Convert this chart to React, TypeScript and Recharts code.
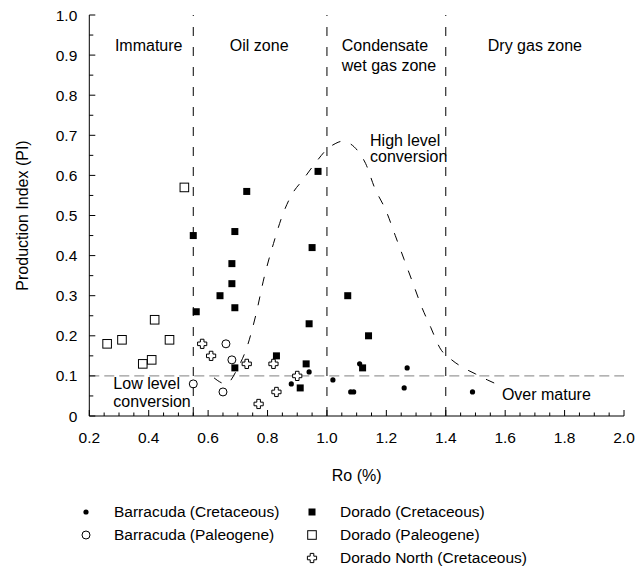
import React from "react";
import {
  ComposedChart,
  Scatter,
  Line,
  XAxis,
  YAxis,
  ReferenceLine,
  ReferenceDot,
  Legend,
} from "recharts";

const FONT = '"Liberation Sans", Arial, Helvetica, sans-serif';
const FONT_SIZE = 15.5;
const NOTE_SIZE = 16;

// axis labels (every 0.2 on Ro, every 0.1 on PI); ticks every 0.05
const X_LABELS = [0.2, 0.4, 0.6, 0.8, 1.0, 1.2, 1.4, 1.6, 1.8, 2.0];
const Y_LABELS = [0, 0.1, 0.2, 0.3, 0.4, 0.5, 0.6, 0.7, 0.8, 0.9, 1.0];
const TICK_STEP = 0.05;

// maturity zone boundaries (Ro %) and the low conversion level (PI)
const ZONE_BOUNDARIES = [0.55, 1.0, 1.4];
const LOW_LEVEL_PI = 0.1;

type Pt = { x: number; y: number };

const BARRACUDA_CRETACEOUS: Pt[] = [
  { x: 0.88, y: 0.08 },
  { x: 0.94, y: 0.11 },
  { x: 1.02, y: 0.09 },
  { x: 1.08, y: 0.06 },
  { x: 1.09, y: 0.06 },
  { x: 1.11, y: 0.13 },
  { x: 1.26, y: 0.07 },
  { x: 1.27, y: 0.12 },
  { x: 1.49, y: 0.06 },
];

const BARRACUDA_PALEOGENE: Pt[] = [
  { x: 0.55, y: 0.08 },
  { x: 0.65, y: 0.06 },
  { x: 0.66, y: 0.18 },
  { x: 0.68, y: 0.14 },
];

const DORADO_CRETACEOUS: Pt[] = [
  { x: 0.55, y: 0.45 },
  { x: 0.56, y: 0.26 },
  { x: 0.64, y: 0.3 },
  { x: 0.68, y: 0.38 },
  { x: 0.68, y: 0.33 },
  { x: 0.69, y: 0.46 },
  { x: 0.69, y: 0.27 },
  { x: 0.69, y: 0.12 },
  { x: 0.73, y: 0.56 },
  { x: 0.83, y: 0.15 },
  { x: 0.91, y: 0.07 },
  { x: 0.93, y: 0.13 },
  { x: 0.94, y: 0.23 },
  { x: 0.95, y: 0.42 },
  { x: 0.97, y: 0.61 },
  { x: 1.07, y: 0.3 },
  { x: 1.12, y: 0.12 },
  { x: 1.14, y: 0.2 },
];

const DORADO_PALEOGENE: Pt[] = [
  { x: 0.26, y: 0.18 },
  { x: 0.31, y: 0.19 },
  { x: 0.38, y: 0.13 },
  { x: 0.41, y: 0.14 },
  { x: 0.42, y: 0.24 },
  { x: 0.47, y: 0.19 },
  { x: 0.52, y: 0.57 },
];

const DORADO_NORTH_CRETACEOUS: Pt[] = [
  { x: 0.58, y: 0.18 },
  { x: 0.61, y: 0.15 },
  { x: 0.73, y: 0.13 },
  { x: 0.77, y: 0.03 },
  { x: 0.82, y: 0.13 },
  { x: 0.83, y: 0.06 },
  { x: 0.9, y: 0.1 },
];

// dashed "high level conversion" envelope
const HIGH_LEVEL_CURVE: Pt[] = [
  { x: 0.62, y: 0.095 },
  { x: 0.66, y: 0.08 },
  { x: 0.7, y: 0.12 },
  { x: 0.73, y: 0.17 },
  { x: 0.76, y: 0.25 },
  { x: 0.79, y: 0.35 },
  { x: 0.82, y: 0.43 },
  { x: 0.85, y: 0.5 },
  { x: 0.88, y: 0.55 },
  { x: 0.92, y: 0.59 },
  { x: 0.96, y: 0.63 },
  { x: 1.0, y: 0.665 },
  { x: 1.03, y: 0.68 },
  { x: 1.05, y: 0.685 },
  { x: 1.08, y: 0.678 },
  { x: 1.11, y: 0.655 },
  { x: 1.13, y: 0.63 },
  { x: 1.16, y: 0.57 },
  { x: 1.2, y: 0.51 },
  { x: 1.23, y: 0.45 },
  { x: 1.26, y: 0.39 },
  { x: 1.29, y: 0.33 },
  { x: 1.32, y: 0.27 },
  { x: 1.35, y: 0.22 },
  { x: 1.38, y: 0.17 },
  { x: 1.42, y: 0.14 },
  { x: 1.46, y: 0.12 },
  { x: 1.5, y: 0.105 },
  { x: 1.54, y: 0.09 },
  { x: 1.57, y: 0.08 },
];

// text placed in the plot, in data coordinates
const ANNOTATIONS: { x: number; y: number; text: string; anchor: "start" | "middle" }[] = [
  { x: 0.4, y: 0.925, text: "Immature", anchor: "middle" },
  { x: 0.772, y: 0.925, text: "Oil zone", anchor: "middle" },
  { x: 1.05, y: 0.925, text: "Condensate", anchor: "start" },
  { x: 1.05, y: 0.875, text: "wet gas zone", anchor: "start" },
  { x: 1.7, y: 0.925, text: "Dry gas zone", anchor: "middle" },
  { x: 1.145, y: 0.688, text: "High level", anchor: "start" },
  { x: 1.145, y: 0.647, text: "conversion", anchor: "start" },
  { x: 0.281, y: 0.0815, text: "Low level", anchor: "start" },
  { x: 0.281, y: 0.0357, text: "conversion", anchor: "start" },
  { x: 1.589, y: 0.055, text: "Over mature", anchor: "start" },
];

function steps(from: number, to: number, step: number): number[] {
  const out: number[] = [];
  const n = Math.round((to - from) / step);
  for (let i = 0; i <= n; i++) out.push(Math.round((from + i * step) * 1000) / 1000);
  return out;
}

const X_TICKS = steps(X_LABELS[0], X_LABELS[X_LABELS.length - 1], TICK_STEP);
const Y_TICKS = steps(Y_LABELS[0], Y_LABELS[Y_LABELS.length - 1], TICK_STEP);

const isLabel = (v: number, labels: number[]) => labels.some((l) => Math.abs(l - v) < 1e-6);

// ---- marker shapes ----
function DotFilled({ cx, cy }: any) {
  return <circle cx={cx} cy={cy} r={2.6} fill="#000" />;
}
function DotOpen({ cx, cy }: any) {
  return <circle cx={cx} cy={cy} r={4} fill="none" stroke="#000" strokeWidth={1} />;
}
function SquareFilled({ cx, cy }: any) {
  return <rect x={cx - 3.5} y={cy - 3.5} width={7} height={7} fill="#000" />;
}
function SquareOpen({ cx, cy }: any) {
  return <rect x={cx - 4.3} y={cy - 4.3} width={8.6} height={8.6} fill="none" stroke="#000" strokeWidth={1} />;
}
function CrossOpen({ cx, cy }: any) {
  const s = 4.6;
  const t = 1.8;
  const d = `M${cx - t},${cy - s}H${cx + t}V${cy - t}H${cx + s}V${cy + t}H${cx + t}V${cy + s}H${cx - t}V${cy + t}H${cx - s}V${cy - t}H${cx - t}Z`;
  return <path d={d} fill="#fff" stroke="#000" strokeWidth={1} strokeLinejoin="round" />;
}

const SERIES = [
  { key: "bc", name: "Barracuda (Cretaceous)", data: BARRACUDA_CRETACEOUS, Shape: DotFilled },
  { key: "bp", name: "Barracuda (Paleogene)", data: BARRACUDA_PALEOGENE, Shape: DotOpen },
  { key: "dc", name: "Dorado (Cretaceous)", data: DORADO_CRETACEOUS, Shape: SquareFilled },
  { key: "dp", name: "Dorado (Paleogene)", data: DORADO_PALEOGENE, Shape: SquareOpen },
  { key: "dn", name: "Dorado North (Cretaceous)", data: DORADO_NORTH_CRETACEOUS, Shape: CrossOpen },
];

// legend grid, row by row (null = empty cell)
const LEGEND_ROWS = [
  ["bc", "dc"],
  ["bp", "dp"],
  [null, "dn"],
];

// ---- axis ticks drawn inward, labels only on major values ----
function AxisTick(props: any) {
  const { x, y, payload, side } = props;
  const v = payload.value as number;
  if (side === "bottom" || side === "top") {
    const major = isLabel(v, X_LABELS);
    const len = major ? 6 : 3.5;
    const dir = side === "bottom" ? -1 : 1;
    return (
      <g>
        <line x1={x} y1={y} x2={x} y2={y + dir * len} stroke="#000" strokeWidth={1} />
        {side === "bottom" && major && (
          <text x={x} y={y + 27} textAnchor="middle" fontFamily={FONT} fontSize={FONT_SIZE} fill="#000">
            {v.toFixed(1)}
          </text>
        )}
      </g>
    );
  }
  const major = isLabel(v, Y_LABELS);
  const len = major ? 6 : 4;
  const dir = side === "left" ? 1 : -1;
  return (
    <g>
      <line x1={x} y1={y} x2={x + dir * len} y2={y} stroke="#000" strokeWidth={1} />
      {side === "left" && major && (
        <text x={x - 12} y={y + 5.5} textAnchor="end" fontFamily={FONT} fontSize={FONT_SIZE} fill="#000">
          {v === 0 ? "0" : v.toFixed(1)}
        </text>
      )}
    </g>
  );
}

function AnnotationText({ cx, cy, text, anchor }: any) {
  return (
    <text x={cx} y={cy} dy="0.36em" textAnchor={anchor} fontFamily={FONT} fontSize={NOTE_SIZE} fill="#000">
      {text}
    </text>
  );
}

function LegendContent() {
  const byKey = Object.fromEntries(SERIES.map((s) => [s.key, s]));
  return (
    <div
      style={{
        display: "grid",
        gridTemplateColumns: "226px 260px",
        gridAutoRows: "23px",
        fontFamily: FONT,
        fontSize: FONT_SIZE,
        color: "#000",
      }}
    >
      {LEGEND_ROWS.flat().map((k, i) => {
        const s = k ? byKey[k] : null;
        if (!s) return <div key={i} />;
        const { Shape } = s;
        return (
          <div key={i} style={{ display: "flex", alignItems: "center" }}>
            <svg width={16} height={16} style={{ flex: "none" }}>
              <Shape cx={8} cy={8} />
            </svg>
            <span style={{ marginLeft: 20, whiteSpace: "nowrap" }}>{s.name}</span>
          </div>
        );
      })}
    </div>
  );
}

export default function App() {
  return (
    <div style={{ width: 636, height: 558 }}>
      <ComposedChart width={636} height={558} margin={{ top: 7, right: 20, bottom: 80, left: 6.3 }}>
        <XAxis
          xAxisId="bottom"
          dataKey="x"
          type="number"
          domain={[0.2, 2.0]}
          ticks={X_TICKS}
          interval={0}
          tickSize={0}
          tickMargin={0}
          tickLine={false}
          tick={<AxisTick side="bottom" />}
          height={70}
          stroke="#000"
          label={{ value: "Ro (%)", position: "insideBottom", offset: 5, fill: "#000", fontSize: NOTE_SIZE, fontFamily: FONT }}
        />
        <XAxis
          xAxisId="top"
          orientation="top"
          type="number"
          domain={[0.2, 2.0]}
          ticks={X_TICKS}
          interval={0}
          tickSize={0}
          tickMargin={0}
          tickLine={false}
          tick={<AxisTick side="top" />}
          height={0}
          stroke="#000"
        />
        <YAxis
          yAxisId="left"
          dataKey="y"
          type="number"
          domain={[0, 1.0]}
          ticks={Y_TICKS}
          interval={0}
          tickSize={0}
          tickMargin={0}
          tickLine={false}
          tick={<AxisTick side="left" />}
          width={75}
          stroke="#000"
          label={{
            value: "Production Index (PI)",
            angle: -90,
            position: "insideLeft",
            offset: 8.2,
            fill: "#000",
            fontSize: NOTE_SIZE,
            fontFamily: FONT,
            style: { textAnchor: "middle" },
          }}
        />
        <YAxis
          yAxisId="right"
          orientation="right"
          type="number"
          domain={[0, 1.0]}
          ticks={Y_TICKS}
          interval={0}
          tickSize={0}
          tickMargin={0}
          tickLine={false}
          tick={<AxisTick side="right" />}
          width={0}
          stroke="#000"
        />

        <ReferenceLine
          xAxisId="bottom"
          yAxisId="left"
          y={LOW_LEVEL_PI}
          stroke="#9a9a9a"
          strokeWidth={1.2}
          strokeDasharray="10 5"
        />
        {ZONE_BOUNDARIES.map((b) => (
          <ReferenceLine
            key={b}
            xAxisId="bottom"
            yAxisId="left"
            x={b}
            stroke="#000"
            strokeWidth={1}
            strokeDasharray="9 11"
          />
        ))}

        <Line
          xAxisId="bottom"
          yAxisId="left"
          data={HIGH_LEVEL_CURVE}
          dataKey="y"
          type="monotone"
          stroke="#000"
          strokeWidth={1}
          strokeDasharray="9 11"
          dot={false}
          activeDot={false}
          legendType="none"
          isAnimationActive={false}
        />

        {SERIES.map(({ key, name, data, Shape }) => (
          <Scatter
            key={key}
            xAxisId="bottom"
            yAxisId="left"
            name={name}
            data={data}
            dataKey="y"
            shape={(p: any) => <Shape cx={p.cx} cy={p.cy} />}
            isAnimationActive={false}
          />
        ))}

        {ANNOTATIONS.map((a, i) => (
          <ReferenceDot
            key={i}
            xAxisId="bottom"
            yAxisId="left"
            x={a.x}
            y={a.y}
            r={0}
            shape={(p: any) => <AnnotationText cx={p.cx} cy={p.cy} text={a.text} anchor={a.anchor} />}
          />
        ))}

        <Legend
          layout="horizontal"
          verticalAlign="middle"
          align="center"
          content={<LegendContent />}
          wrapperStyle={{ left: 70, top: 492.5, width: 500 }}
        />
      </ComposedChart>
    </div>
  );
}
